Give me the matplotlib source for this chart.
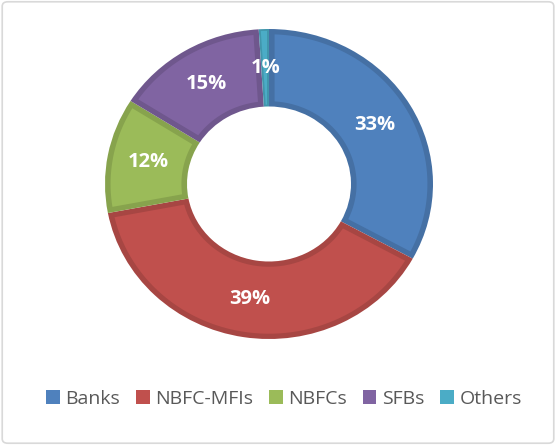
import numpy as np
import matplotlib.pyplot as plt
from matplotlib.patches import FancyBboxPatch, Polygon
import matplotlib.colors as mcolors

plt.rcParams['font.family'] = ['Open Sans', 'DejaVu Sans']

# data
categories = ['Banks', 'NBFC-MFIs', 'NBFCs', 'SFBs', 'Others']
shares = [33, 39, 12, 15, 1]
colors = ['#4F81BD', '#C0504D', '#9BBB59', '#8064A2', '#4BACC6']


def darker(c, f=0.87):
    r, g, b = mcolors.to_rgb(c)
    return (r * f, g * f, b * f)


def inset_poly(w, d):
    # shape of the wedge shrunk inwards by d, so the wedge itself shows as a border
    R = w.r
    rin = w.r - w.width
    t1, t2 = w.theta1, w.theta2
    a = np.degrees(np.arcsin(d / (R - d)))
    outer = np.linspace(t1 + a, t2 - a, 60)
    pts = [((R - d) * np.cos(np.radians(t)), (R - d) * np.sin(np.radians(t))) for t in outer]
    b = np.degrees(np.arcsin(min(d / (rin + d), 1)))
    if t1 + b < t2 - b:
        inner = np.linspace(t2 - b, t1 + b, 40)
        pts += [((rin + d) * np.cos(np.radians(t)), (rin + d) * np.sin(np.radians(t))) for t in inner]
    else:
        mid = np.radians((t1 + t2) / 2)
        dist = d / np.sin(np.radians(t2 - t1) / 2)
        pts.append((dist * np.cos(mid), dist * np.sin(mid)))
    return pts


fig = plt.figure(figsize=(5.56, 4.45), dpi=100)

# outer chart border
frame = FancyBboxPatch((0.004, 0.004), 0.992, 0.992, boxstyle='round,pad=0,rounding_size=0.01',
                       transform=fig.transFigure, facecolor='white', edgecolor='#D9D9D9',
                       linewidth=1.2, zorder=-10)
fig.patches.append(frame)

W, H = 556, 445
cx, cy, rx, ry = 269, 184, 164, 155
ax = fig.add_axes([(cx - rx) / W, (H - cy - ry) / H, 2 * rx / W, 2 * ry / H])
ax.patch.set_alpha(0)
wedges, texts, autotexts = ax.pie(shares, colors=colors, startangle=90, counterclock=False,
                                  radius=1, autopct='%1.0f%%', pctdistance=0.75,
                                  wedgeprops=dict(width=0.5, linewidth=0))
ax.set_aspect('auto')
ax.set_xlim(-1, 1)
ax.set_ylim(-1, 1)
ax.axis('off')

# darker border: wedge painted dark, lighter inset on top
for w, c in zip(wedges, colors):
    w.set_facecolor(darker(c))
    d = 0.034 if w.theta2 - w.theta1 > 10 else 0.012
    ax.add_patch(Polygon(inset_poly(w, d), closed=True, facecolor=c, linewidth=0, zorder=1.5))

for t in autotexts:
    t.set_color('white')
    t.set_fontweight('bold')
    t.set_fontsize(14.5)
    t.set_zorder(3)

handles = [plt.Rectangle((0, 0), 1, 1, facecolor=c) for c in colors]
leg = fig.legend(handles, categories, loc='center', bbox_to_anchor=(284 / W, 1 - 399 / H),
                 ncol=5, frameon=False, fontsize=14, handlelength=0.7, handleheight=0.7,
                 handletextpad=0.3, columnspacing=0.8)
for t in leg.get_texts():
    t.set_color('#595959')

fig.savefig('out.png', dpi=100)
